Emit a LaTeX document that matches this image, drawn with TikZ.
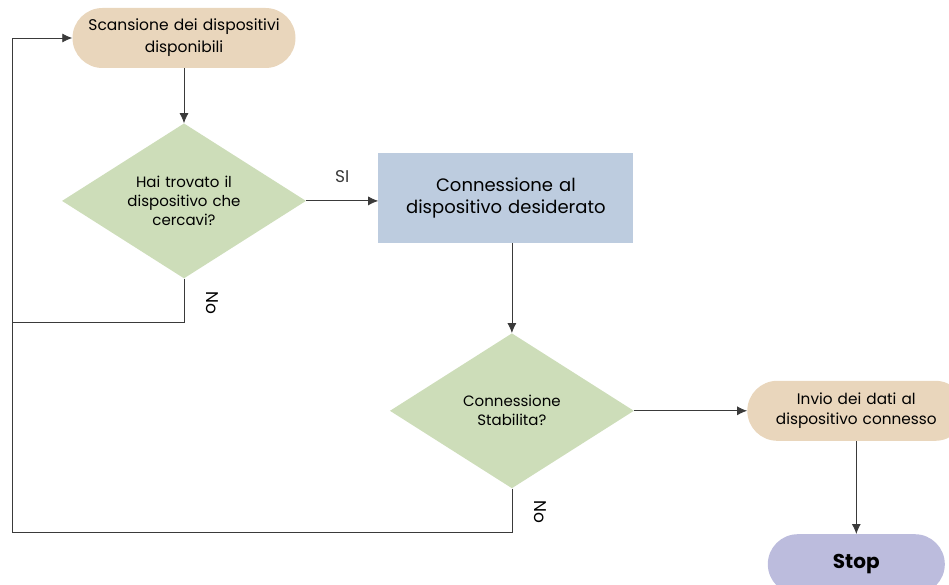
\documentclass[tikz,border=0pt]{standalone}
\usepackage{fontspec}
\setmainfont{Poppins}
\usepackage{xcolor}
\usetikzlibrary{shapes.geometric, arrows.meta, positioning}

\definecolor{sandfill}{HTML}{E9D6BC}
\definecolor{sagefill}{HTML}{CDDDB9}
\definecolor{steelfill}{HTML}{BDCCDF}
\definecolor{lilacfill}{HTML}{BCBCDD}
\definecolor{wire}{HTML}{3A3A3A}

\begin{document}
\begin{tikzpicture}[
    x=1pt, y=1pt,
    terminal/.style={rectangle, rounded corners=30pt, fill=sandfill, minimum width=223pt, minimum height=60pt, text width=215pt, align=center, inner sep=0pt, font=\fontsize{15.5}{22}\selectfont},
    decision/.style={diamond, aspect=1.57, fill=sagefill, minimum width=244pt, minimum height=155pt, text width=140pt, align=center, inner sep=0pt, font=\fontsize{15}{19}\selectfont},
    process/.style={rectangle, fill=steelfill, minimum width=255pt, minimum height=90pt, text width=235pt, align=center, inner sep=0pt, font=\fontsize{18}{22}\selectfont},
    arrow/.style={-{Latex[length=10pt,width=9pt]}, wire, line width=0.8pt},
    line/.style={wire, line width=0.8pt},
    tag/.style={font=\fontsize{17}{19}\selectfont, inner sep=1pt}
]
\useasboundingbox (0,0) rectangle (949,-585);

% Flow nodes
\node[terminal] (scan) at (184,-38) {Scansione dei dispositivi\\disponibili};
\node[decision, below=55pt of scan] (found) {Hai trovato il\\dispositivo che\\cercavi?};
\node[process, right=72pt of found, yshift=3pt] (connect) {Connessione al\\dispositivo desiderato};
\node[decision, below=90pt of connect, xshift=6pt] (stable) {Connessione\\Stabilita?};
\node[terminal, right=113pt of stable, minimum width=218pt, text width=205pt, font=\fontsize{15.3}{20}\selectfont] (send) {Invio dei dati al\\dispositivo connesso};
\node[terminal, below=93pt of send, fill=lilacfill, minimum width=177pt, text width=160pt, font=\fontsize{20}{22}\selectfont\bfseries] (stop) {Stop};

% Return path
\coordinate (backA) at (12,-322);
\coordinate (backB) at (12,-532);

% Connections
\draw[arrow] (scan) -- (found);
\draw[arrow] (found) -- node[tag, above=17pt] {SI} (found.east -| connect.west);
\draw[arrow] (connect.south -| stable.north) -- (stable);
\draw[arrow] (stable) -- (send);
\draw[arrow] (send) -- (stop);
\draw[line] (found.south) |- (backA);
\draw[line] (stable.south) |- (backB);
\draw[arrow] (backB) |- (scan.west);

% Labels
\node[tag, rotate=-90] (noA) at ([xshift=28pt, yshift=-24pt]found.south) {No};
\node[tag, rotate=-90] (noB) at ([xshift=28pt, yshift=-23pt]stable.south) {No};

\end{tikzpicture}
\end{document}
